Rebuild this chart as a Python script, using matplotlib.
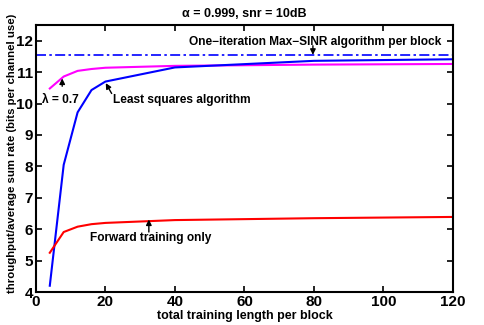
import numpy as np
import matplotlib.pyplot as plt

plt.rcParams['font.family'] = ['Liberation Sans', 'DejaVu Sans']
plt.rcParams['font.weight'] = 'bold'

# training lengths
x = [4, 8, 12, 16, 20, 40, 80, 120]

ls_rate = [4.2, 8.05, 9.72, 10.43, 10.7, 11.15, 11.36, 11.41]
lam_rate = [10.48, 10.86, 11.04, 11.1, 11.14, 11.2, 11.24, 11.26]
fwd_rate = [5.25, 5.91, 6.08, 6.16, 6.2, 6.29, 6.35, 6.39]
maxsinr_rate = 11.55

xticks = [0, 20, 40, 60, 80, 100, 120]
yticks = [4, 5, 6, 7, 8, 9, 10, 11, 12]

fig = plt.figure(figsize=(4.85, 3.25), dpi=100)
ax = fig.add_axes([0.074, 0.1015, 0.86, 0.8215])

ax.axhline(maxsinr_rate, color='b', lw=1.2, ls='-.', dashes=(6, 2, 1.5, 2))
ax.plot(x, lam_rate, color='#ff00ff', lw=1.5)
ax.plot(x, ls_rate, color='b', lw=1.5)
ax.plot(x, fwd_rate, color='r', lw=1.5)

ax.set_xlim(0, 120)
ax.set_ylim(4, 12.5)
ax.set_xticks(xticks)
ax.set_yticks(yticks)
ax.tick_params(direction='in', top=True, right=True, labelsize=11, length=4, width=1.2, pad=2)
for sp in ax.spines.values():
    sp.set_linewidth(1.5)

ax.set_xlabel('total training length per block', fontsize=9, fontweight='bold', labelpad=1)
ax.set_ylabel('throughput/average sum rate (bits per channel use)', fontsize=8.2, fontweight='bold', labelpad=0)
ax.yaxis.set_label_coords(-0.045, 0.52)
ax.set_title('\u03b1 = 0.999, snr = 10dB', fontsize=9, fontweight='bold', pad=6)

arrow = dict(arrowstyle='-|>', color='k', lw=1, mutation_scale=8, shrinkA=0, shrinkB=0)
tf = dict(fontsize=8.6, fontweight='bold')

ax.text(80.3, 11.97, 'One\u2212iteration Max\u2212SINR algorithm per block', ha='center', va='center', **tf)
ax.annotate('', xy=(79.7, maxsinr_rate), xytext=(79.7, 11.84), arrowprops=arrow)

ax.text(7.0, 10.12, '\u03bb = 0.7', ha='center', va='center', **tf)
ax.annotate('', xy=(7.57, 10.8), xytext=(7.57, 10.55), arrowprops=arrow)

ax.text(22.2, 10.1, 'Least squares algorithm', ha='left', va='center', **tf)
ax.annotate('', xy=(20.1, 10.65), xytext=(21.8, 10.32), arrowprops=arrow)

ax.text(15.5, 5.71, 'Forward training only', ha='left', va='center', **tf)
ax.annotate('', xy=(32.5, 6.31), xytext=(32.5, 5.91), arrowprops=arrow)

fig.savefig('out.png', dpi=100)
